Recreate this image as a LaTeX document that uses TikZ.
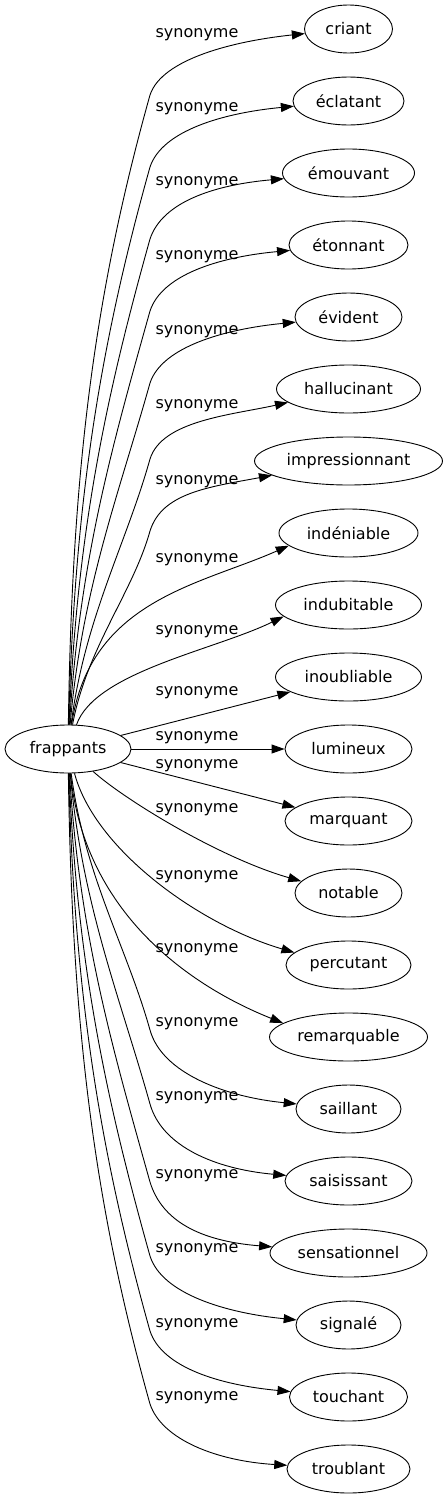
\documentclass[tikz,border=0pt]{standalone}
\usepackage{fontspec}
\setmainfont{DejaVu Sans}
\usepackage{tikz}
\usetikzlibrary{arrows.meta,shapes.geometric}

\begin{document}
\begin{tikzpicture}[x=1pt,y=-1pt]
  % Styles local to this figure.
  \tikzset{
    word/.style={draw,ellipse,line width=0.9pt,minimum height=48pt,inner sep=0pt,
      font=\fontsize{16}{19}\selectfont},
    tag/.style={inner sep=0pt,font=\fontsize{16}{19}\selectfont},
    edge/.style={line width=0.9pt,-{Triangle[length=13pt,width=9pt]}}
  }
  \useasboundingbox (0,0) rectangle (447,1499);

  % Source word.
  \node[word,minimum width=126] (frappants) at (68,749) {frappants};

  % Far edges, bent near x=150: id/text/y/width/label y/bend y/end control offset.
  \foreach \id/\txt/\yy/\ww/\ly/\by/\ex/\ey in {
      criant/criant/29/88/35/95/-70/12,
      eclatant/éclatant/101/111/109/167/-70/12,
      emouvant/émouvant/173/132/183/239/-70/12,
      etonnant/étonnant/245/119/257/311/-70/12,
      evident/évident/317/107/332/383/-70/12,
      hallucinant/hallucinant/389/144/406/459/-45/26,
      impressionnant/impressionnant/461/188/482/531/-45/26,
      saillant/saillant/1109/105/1024/1030/-70/-12,
      saisissant/saisissant/1181/127/1098/1104/-70/-12,
      sensationnel/sensationnel/1253/157/1176/1182/-70/-12,
      signale/signalé/1325/105/1250/1256/-70/-12,
      touchant/touchant/1397/118/1325/1331/-70/-12,
      troublant/troublant/1469/123/1398/1404/-70/-8} {
    \node[word,minimum width=\ww] (\id) at (348.5,\yy) {\txt};
    \pgfmathsetmacro\s{sign(\by-749)}
    \pgfmathsetmacro\ys{749+24*\s}
    \pgfmathsetmacro\k{25*(1-abs(\yy-749)/720)}
    \pgfmathsetmacro\h{0.32*abs(\by-\ys)}
    \pgfmathsetmacro\tx{348.5-\ww/2}
    \draw[edge] (frappants) .. controls ({72+\k},{\ys+0.4*(\by-\ys)}) and ({150-0.28*\h},{\by-\s*\h})
      .. (150,\by) .. controls (162,{\by+0.55*(\yy-\by)}) and ({\tx+\ex},{\yy+\ey}) .. (\id);
    \node[tag] (l\id) at (197,\ly) {synonyme};
  }

  % Nearer edges, one curve each: id/text/y/width/label y/controls/end angle.
  \foreach \id/\txt/\yy/\ww/\ly/\ax/\ay/\bx/\bY/\ang in {
      indeniable/indéniable/533/139/560/90/600/200/585/192,
      indubitable/indubitable/605/146/632/95/672/215/650/190,
      notable/notable/893/107/810/125/800/220/858/166,
      percutant/percutant/965/125/877/95/850/200/925/167,
      remarquable/remarquable/1037/158/950/85/920/200/990/168} {
    \node[word,minimum width=\ww] (\id) at (348.5,\yy) {\txt};
    \draw[edge] (frappants) .. controls (\ax,\ay) and (\bx,\bY) .. (\id.\ang);
    \node[tag] (l\id) at (197,\ly) {synonyme};
  }

  % Straight edges next to the source.
  \foreach \id/\yy/\ww/\ly in {inoubliable/677/146/693, lumineux/749/127/738, marquant/821/127/766} {
    \node[word,minimum width=\ww] (\id) at (348.5,\yy) {\id};
    \draw[edge] (frappants) -- (\id);
    \node[tag] (l\id) at (197,\ly) {synonyme};
  }
\end{tikzpicture}
\end{document}
